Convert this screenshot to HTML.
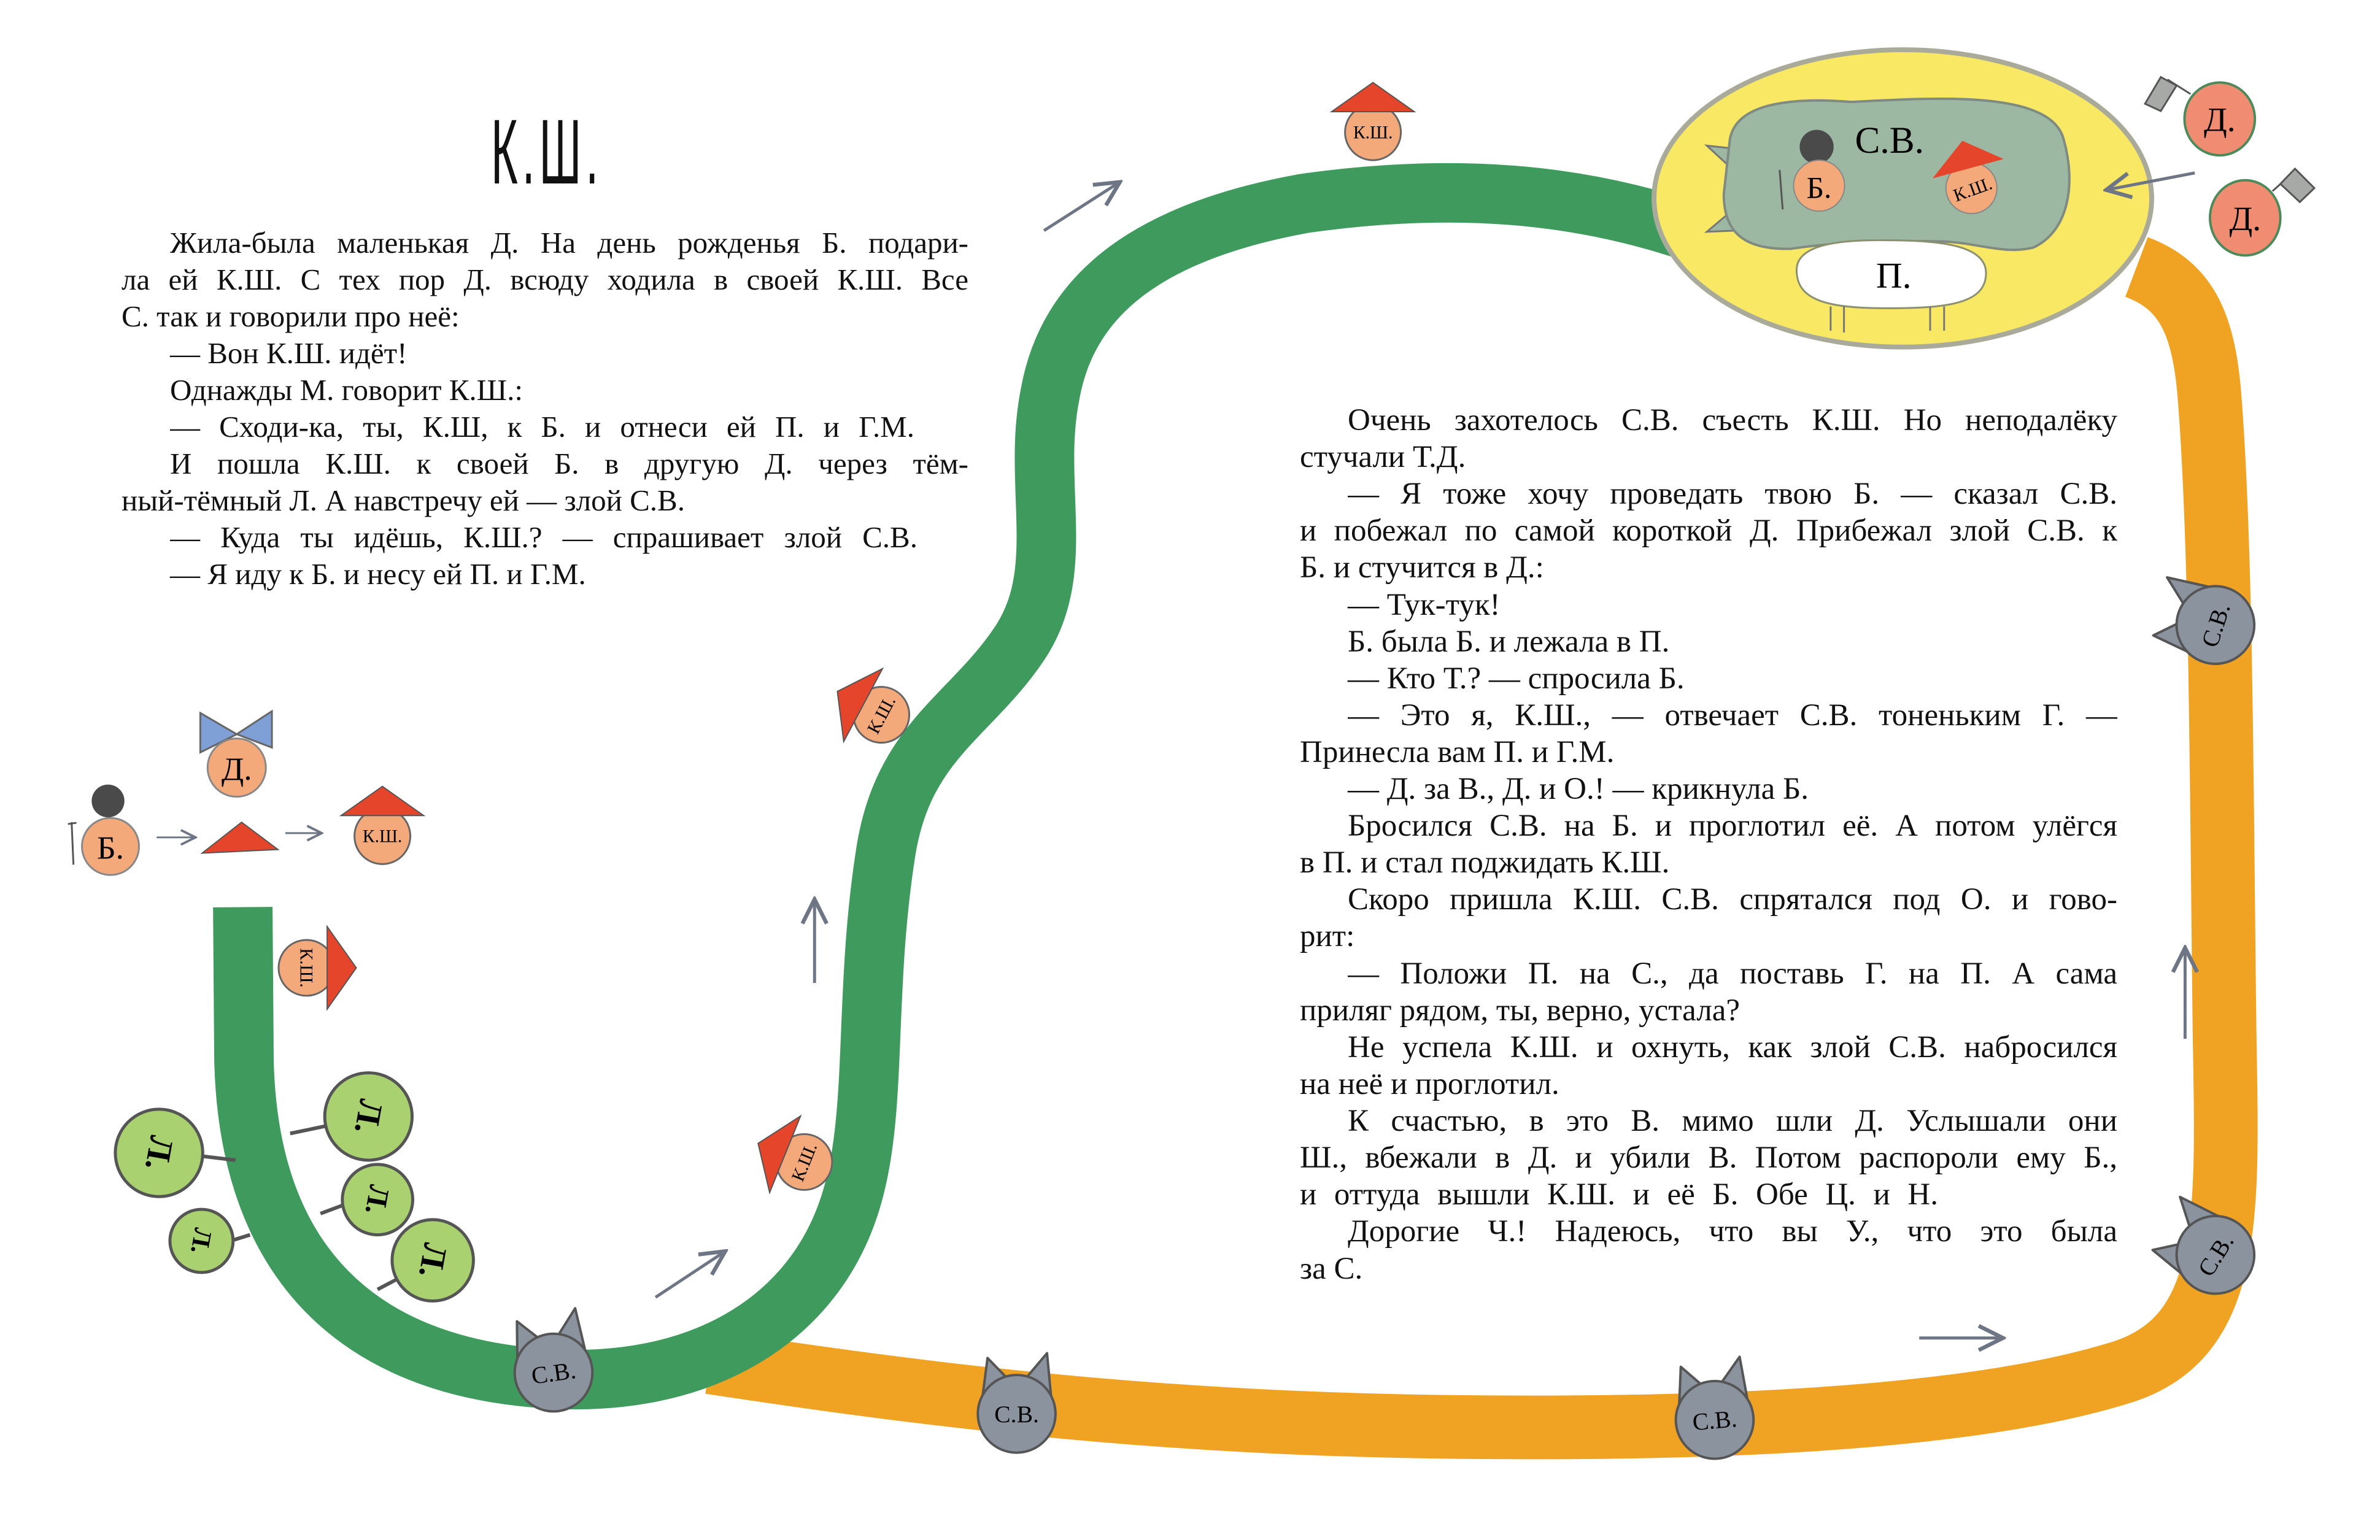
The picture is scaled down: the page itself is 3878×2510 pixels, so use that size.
<!DOCTYPE html>
<html><head><meta charset="utf-8">
<style>
html,body{margin:0;padding:0;background:#fff;}
body{width:3878px;height:2510px;position:relative;overflow:hidden;font-family:"Liberation Serif",serif;color:#111;}
svg{position:absolute;left:0;top:0;}
.l{position:absolute;height:60px;line-height:60px;font-size:49px;white-space:nowrap;}
.j{text-align:justify;text-align-last:justify;white-space:normal;overflow:hidden;}
.r{font-size:51px;}
.title{position:absolute;left:800px;top:172px;font-family:"Liberation Sans",sans-serif;font-size:150px;line-height:150px;letter-spacing:14px;transform:scaleX(0.5);transform-origin:left top;font-weight:normal;}
</style></head><body>
<svg width="3878" height="2510" viewBox="0 0 3878 2510" font-family="Liberation Serif, serif">
<defs>
<g id="cat">
<polygon points="-58,-15 -48,-92 -12,-55 12,-55 50,-100 58,-15" fill="#8b939f" stroke="#555" stroke-width="4" stroke-linejoin="round"/>
<circle r="64" fill="#8b939f" stroke="#555" stroke-width="4"/>
</g>
<g id="ksh">
<circle r="46" fill="#f3a97a" stroke="#666" stroke-width="3"/>
<polygon points="-68,-34 0,-82 68,-34" fill="#e4452b" stroke="#555" stroke-width="2"/>
</g>
<marker id="ah" markerWidth="10" markerHeight="10" refX="9" refY="5" orient="auto" markerUnits="strokeWidth">
<path d="M1,1 L9,5 L1,9" fill="none" stroke="#6e7585" stroke-width="1.3"/>
</marker>
</defs>
<g transform="scale(0.989)">
<!-- orange road -->
<path d="M 1170 2245 C 1500 2295 1850 2340 2300 2350 C 2800 2360 3250 2340 3500 2260 C 3680 2200 3670 2000 3665 1700 C 3660 1300 3660 900 3640 650 C 3630 530 3600 470 3520 440" fill="none" stroke="#f0a323" stroke-width="105"/>
<!-- green road -->
<path d="M 400 1495 L 402 1750 C 410 2050 560 2250 900 2272 C 1150 2288 1330 2180 1395 2000 C 1450 1850 1420 1650 1460 1400 C 1490 1220 1600 1180 1680 1060 C 1760 940 1700 800 1730 650 C 1760 480 1900 380 2150 335 C 2400 300 2600 320 2780 380" fill="none" stroke="#3e9b5d" stroke-width="98"/>

<!-- yellow oval -->
<ellipse cx="3135" cy="327" rx="410" ry="245" fill="#f8e864" stroke="#a9aa9a" stroke-width="8"/>
<polygon points="2812,240 2858,245 2850,275" fill="#9cb7a2" stroke="#777" stroke-width="3"/>
<polygon points="2812,382 2858,380 2850,350" fill="#9cb7a2" stroke="#777" stroke-width="3"/>
<path d="M 2850 230 C 2860 170 2950 160 3050 168 C 3200 160 3380 150 3400 230 C 3420 300 3410 380 3350 408 C 3300 420 3260 400 3200 398 C 3100 395 3020 400 2950 410 C 2870 412 2840 380 2840 320 Z" fill="#9cb7a2" stroke="#7f8a80" stroke-width="4"/>
<path d="M 2960 445 C 2960 400 3040 395 3110 396 C 3200 396 3272 405 3272 450 C 3272 500 3210 508 3110 508 C 3010 508 2960 495 2960 445 Z" fill="#fff" stroke="#8a9070" stroke-width="3"/>
<g stroke="#777" stroke-width="3"><line x1="3016" y1="505" x2="3016" y2="545"/><line x1="3038" y1="505" x2="3038" y2="548"/><line x1="3180" y1="505" x2="3180" y2="545"/><line x1="3203" y1="505" x2="3203" y2="545"/></g>
<text x="3113" y="252" font-size="62" text-anchor="middle">С.В.</text>
<circle cx="2993" cy="242" r="28" fill="#4a4a4a"/>
<circle cx="2997" cy="306" r="42" fill="#f3a97a" stroke="#888" stroke-width="2"/>
<line x1="2932" y1="280" x2="2937" y2="345" stroke="#555" stroke-width="3"/>
<text x="2997" y="326" font-size="50" text-anchor="middle">Б.</text>
<circle cx="3248" cy="310" r="42" fill="#f3a97a" stroke="#888" stroke-width="2"/>
<polygon points="3184,294 3233,232 3301,262" fill="#e4452b"/>
<text x="3250" y="322" font-size="30" text-anchor="middle" transform="rotate(-20 3250 312)">К.Ш.</text>
<text x="3120" y="474" font-size="60" text-anchor="middle">П.</text>

<!-- Д. with flags -->
<line x1="3609" y1="155" x2="3571" y2="131" stroke="#555" stroke-width="3"/>
<polygon points="3534,171 3560,127 3586,141 3560,183" fill="#a7a9a7" stroke="#555" stroke-width="3"/>
<ellipse cx="3657" cy="196" rx="58" ry="60" fill="#ef8c72" stroke="#4d8a5a" stroke-width="4"/>
<text x="3657" y="216" font-size="56" text-anchor="middle">Д.</text>
<line x1="3744" y1="315" x2="3781" y2="282" stroke="#555" stroke-width="3"/>
<polygon points="3781,278 3813,310 3789,333 3757,303" fill="#a7a9a7" stroke="#555" stroke-width="3"/>
<ellipse cx="3699" cy="359" rx="58" ry="62" fill="#ef8c72" stroke="#4d8a5a" stroke-width="4"/>
<text x="3699" y="379" font-size="56" text-anchor="middle">Д.</text>

<!-- arrows -->
<g stroke="#6e7585" stroke-width="5" fill="none" marker-end="url(#ah)">
<line x1="3616" y1="285" x2="3470" y2="313"/>
<line x1="1720" y1="380" x2="1845" y2="300"/>
<line x1="1080" y1="2138" x2="1195" y2="2062"/>
<line x1="1342" y1="1620" x2="1342" y2="1482"/>
<line x1="3600" y1="1712" x2="3600" y2="1562"/>
<line x1="3162" y1="2205" x2="3300" y2="2205"/>
<line x1="258" y1="1380" x2="322" y2="1380" stroke-width="3"/>
<line x1="470" y1="1373" x2="530" y2="1373" stroke-width="3"/>
</g>

<!-- cats -->
<g transform="translate(912 2262) rotate(-8)"><use href="#cat"/><text y="14" font-size="40" text-anchor="middle">С.В.</text></g>
<g transform="translate(1675 2330)"><use href="#cat"/><text y="14" font-size="40" text-anchor="middle">С.В.</text></g>
<g transform="translate(2825 2340) rotate(-5)"><use href="#cat"/><text y="14" font-size="40" text-anchor="middle">С.В.</text></g>
<g transform="translate(3650 1030) rotate(-72)"><use href="#cat"/><text y="14" font-size="40" text-anchor="middle">С.В.</text></g>
<g transform="translate(3650 2068) rotate(-58)"><use href="#cat"/><text y="14" font-size="40" text-anchor="middle">С.В.</text></g>

<!-- K.Sh. on path -->
<g transform="translate(2262 218)"><use href="#ksh"/><text y="10" font-size="30" text-anchor="middle">К.Ш.</text></g>
<g transform="translate(1452 1178) rotate(-62)"><use href="#ksh"/><text y="10" font-size="30" text-anchor="middle">К.Ш.</text></g>
<g transform="translate(1325 1915) rotate(-68)"><use href="#ksh"/><text y="10" font-size="30" text-anchor="middle">К.Ш.</text></g>
<g transform="translate(505 1595) rotate(90)"><use href="#ksh"/><text y="10" font-size="30" text-anchor="middle">К.Ш.</text></g>
<g transform="translate(630 1378)"><use href="#ksh"/><text y="10" font-size="30" text-anchor="middle">К.Ш.</text></g>

<!-- legend -->
<circle cx="178" cy="1320" r="27" fill="#4a4a4a"/>
<line x1="118" y1="1355" x2="121" y2="1425" stroke="#555" stroke-width="3"/>
<line x1="112" y1="1358" x2="126" y2="1356" stroke="#555" stroke-width="3"/>
<circle cx="182" cy="1395" r="47" fill="#f3a97a" stroke="#888" stroke-width="3"/>
<text x="182" y="1415" font-size="54" text-anchor="middle">Б.</text>
<polygon points="333,1406 398,1355 458,1400" fill="#e4452b" stroke="#555" stroke-width="2"/>
<polygon points="330,1175 390,1210 330,1240" fill="#7ea0d6" stroke="#666" stroke-width="3"/>
<polygon points="448,1172 390,1210 448,1232" fill="#7ea0d6" stroke="#666" stroke-width="3"/>
<circle cx="390" cy="1265" r="48" fill="#f3a97a" stroke="#888" stroke-width="3"/>
<text x="390" y="1285" font-size="54" text-anchor="middle">Д.</text>

<!-- trees -->
<g stroke="#555" stroke-width="6">
<line x1="330" y1="1905" x2="388" y2="1912"/>
<line x1="380" y1="2045" x2="412" y2="2035"/>
<line x1="478" y1="1868" x2="540" y2="1855"/>
<line x1="528" y1="2000" x2="568" y2="1985"/>
<line x1="622" y1="2125" x2="660" y2="2105"/>
</g>
<g fill="#a9d170" stroke="#555" stroke-width="5">
<circle cx="262" cy="1900" r="72"/>
<circle cx="332" cy="2045" r="52"/>
<circle cx="607" cy="1840" r="72"/>
<circle cx="622" cy="1977" r="58"/>
<circle cx="713" cy="2077" r="67"/>
</g>
<g font-size="56" text-anchor="middle" font-weight="bold">
<text transform="translate(262 1900) rotate(100)" y="18">Л.</text>
<text transform="translate(332 2045) rotate(100)" y="14" font-size="42">Л.</text>
<text transform="translate(607 1840) rotate(100)" y="18">Л.</text>
<text transform="translate(622 1977) rotate(100)" y="16" font-size="48">Л.</text>
<text transform="translate(713 2077) rotate(100)" y="18">Л.</text>
</g>
</g>
</svg>

<div class="title">К.Ш.</div>

<div class="l j" style="left:277px;top:366px;width:1301px">Жила-была маленькая Д. На день рожденья Б. подари-</div>
<div class="l j" style="left:198px;top:426px;width:1380px">ла ей К.Ш. С тех пор Д. всюду ходила в своей К.Ш. Все</div>
<div class="l" style="left:198px;top:486px">С. так и говорили про неё:</div>
<div class="l" style="left:277px;top:546px">— Вон К.Ш. идёт!</div>
<div class="l" style="left:277px;top:606px">Однажды М. говорит К.Ш.:</div>
<div class="l j" style="left:277px;top:666px;width:1213px">— Сходи-ка, ты, К.Ш, к Б. и отнеси ей П. и Г.М.</div>
<div class="l j" style="left:277px;top:726px;width:1301px">И пошла К.Ш. к своей Б. в другую Д. через тём-</div>
<div class="l" style="left:198px;top:786px">ный-тёмный Л. А навстречу ей — злой С.В.</div>
<div class="l j" style="left:277px;top:846px;width:1218px">— Куда ты идёшь, К.Ш.? — спрашивает злой С.В.</div>
<div class="l" style="left:277px;top:906px">— Я иду к Б. и несу ей П. и Г.М.</div>

<div class="l r j" style="left:2196px;top:655px;width:1254px">Очень захотелось С.В. съесть К.Ш. Но неподалёку</div>
<div class="l r" style="left:2118px;top:715px">стучали Т.Д.</div>
<div class="l r j" style="left:2196px;top:775px;width:1254px">— Я тоже хочу проведать твою Б. — сказал С.В.</div>
<div class="l r j" style="left:2118px;top:835px;width:1332px">и побежал по самой короткой Д. Прибежал злой С.В. к</div>
<div class="l r" style="left:2118px;top:895px">Б. и стучится в Д.:</div>
<div class="l r" style="left:2196px;top:956px">— Тук-тук!</div>
<div class="l r" style="left:2196px;top:1016px">Б. была Б. и лежала в П.</div>
<div class="l r" style="left:2196px;top:1076px">— Кто Т.? — спросила Б.</div>
<div class="l r j" style="left:2196px;top:1136px;width:1254px">— Это я, К.Ш., — отвечает С.В. тоненьким Г. —</div>
<div class="l r" style="left:2118px;top:1196px">Принесла вам П. и Г.М.</div>
<div class="l r" style="left:2196px;top:1256px">— Д. за В., Д. и О.! — крикнула Б.</div>
<div class="l r j" style="left:2196px;top:1316px;width:1254px">Бросился С.В. на Б. и проглотил её. А потом улёгся</div>
<div class="l r" style="left:2118px;top:1376px">в П. и стал поджидать К.Ш.</div>
<div class="l r j" style="left:2196px;top:1436px;width:1254px">Скоро пришла К.Ш. С.В. спрятался под О. и гово-</div>
<div class="l r" style="left:2118px;top:1496px">рит:</div>
<div class="l r j" style="left:2196px;top:1557px;width:1254px">— Положи П. на С., да поставь Г. на П. А сама</div>
<div class="l r" style="left:2118px;top:1617px">приляг рядом, ты, верно, устала?</div>
<div class="l r j" style="left:2196px;top:1677px;width:1254px">Не успела К.Ш. и охнуть, как злой С.В. набросился</div>
<div class="l r" style="left:2118px;top:1737px">на неё и проглотил.</div>
<div class="l r j" style="left:2196px;top:1797px;width:1254px">К счастью, в это В. мимо шли Д. Услышали они</div>
<div class="l r j" style="left:2118px;top:1857px;width:1332px">Ш., вбежали в Д. и убили В. Потом распороли ему Б.,</div>
<div class="l r j" style="left:2118px;top:1917px;width:1040px">и оттуда вышли К.Ш. и её Б. Обе Ц. и Н.</div>
<div class="l r j" style="left:2196px;top:1977px;width:1254px">Дорогие Ч.! Надеюсь, что вы У., что это была</div>
<div class="l r" style="left:2118px;top:2038px">за С.</div>
</body></html>
